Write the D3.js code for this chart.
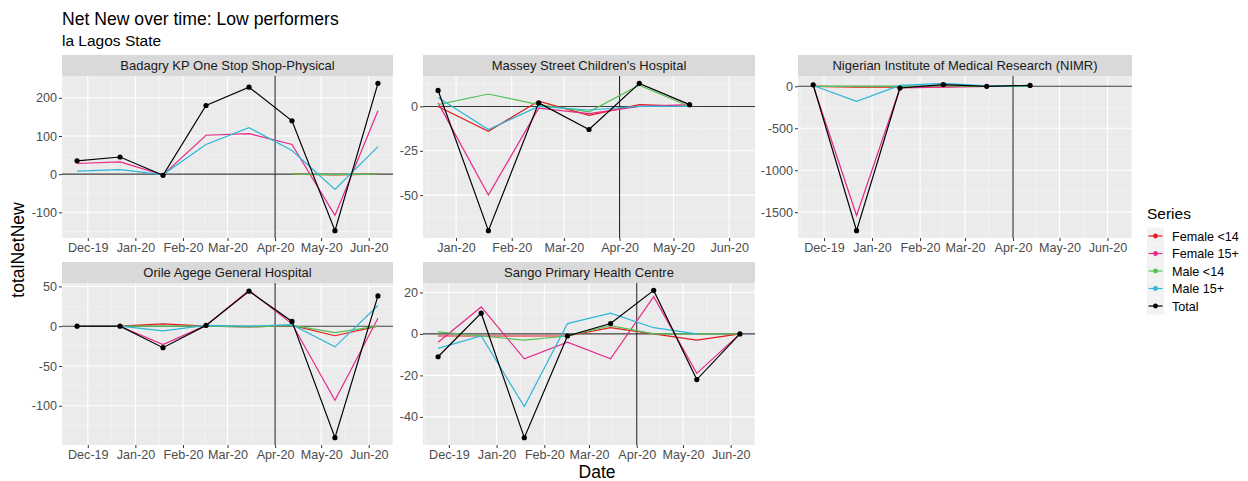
<!DOCTYPE html>
<html>
<head>
<meta charset="utf-8">
<script src="https://cdn.jsdelivr.net/npm/d3@7/dist/d3.min.js"></script>
<style>
  body { margin: 0; background: #fff; }
  text { font-family: "Liberation Sans", Arial, sans-serif; }
</style>
</head>
<body>
<div id="window"></div>
<script>
// dates of the 4-weekly reporting periods
const dates = ["2019-11-24", "2019-12-22", "2020-01-19", "2020-02-16", "2020-03-15", "2020-04-12", "2020-05-10", "2020-06-07"];
const series_names = ["Female <14", "Female 15+", "Male <14", "Male 15+", "Total"];
const series_colors = ["#E41A1C", "#E7298A", "#55C155", "#2CB6DA", "#000000"];
const facility_names = ["Badagry KP One Stop Shop-Physical", "Massey Street Children's Hospital",
    "Nigerian Institute of Medical Research (NIMR)", "Orile Agege General Hospital", "Sango Primary Health Centre"];
const intervention_date = "2020-04-01";

// rows that exist for each facility (first and last date index)
const facility_rows = [[0, 7], [1, 7], [0, 7], [0, 7], [0, 7]];

// values per series: Female <14, Female 15+, Male <14, Male 15+, Total
const badagry = [
    [null, null, null, null, null, 0, -2, 0],
    [28, 32, -2, 102, 106, 78, -108, 166],
    [null, null, null, null, null, 0, -1, 0],
    [8, 12, -1, 78, 122, 62, -40, 72],
    [35, 45, -3, 180, 228, 140, -148, 238]
];
const massey = [
    [null, 0, -14, 3, -5, 1, 0, null],
    [null, 2, -50, -1, -4, 0, 1, null],
    [null, 1, 7, 1, -3, 12, 0, null],
    [null, 5, -13, 0, -2, 0, 0, null],
    [null, 9, -70, 2, -13, 13, 1, null]
];
const nimr = [
    [0, -10, -10, -5, 0, 0, null, null],
    [10, -1540, -20, -10, 0, 0, null, null],
    [0, 0, 0, 5, 0, 0, null, null],
    [10, -180, 10, 35, 5, 5, null, null],
    [18, -1720, -20, 20, 0, 10, null, null]
];
const orile = [
    [null, 0, 3, 0, -1, 1, -12, 0],
    [null, 0, -23, 1, 45, 3, -93, 10],
    [null, 0, 0, 0, -1, 1, -8, 0],
    [null, 0, -6, 1, 0, 2, -26, 26],
    [0, 0, -27, 1, 44, 6, -140, 38]
];
const sango = [
    [-1, -1, -1, -1, 3, 0, -3, 0],
    [-4, 13, -12, -4, -12, 18, -19, 0],
    [1, -1, -3, -1, 4, 0, 0, 0],
    [-7, -1, -35, 5, 10, 3, 0, null],
    [-11, 10, -50, -1, 5, 21, -22, 0]
];
const facility_values = [badagry, massey, nimr, orile, sango];

// y tick labels per facility
const y_ticks = [
    [-100, 0, 100, 200],
    [-50, -25, 0],
    [-1500, -1000, -500, 0],
    [-100, -50, 0, 50],
    [-40, -20, 0, 20]
];

let w = 1248, h = 481;
let svg = d3.select("#window").append("svg").attr("width", w).attr("height", h);

let parse = d3.timeParse("%Y-%m-%d");
let fmt = d3.timeFormat("%b-%y");
let date_values = dates.map(parse);

// panel boxes: [left, right, strip top]
let panel_boxes = [
    [62, 393, 55], [423, 755, 55], [798, 1132, 55],
    [62, 393, 262], [423, 755, 262]
];
let strip_h = 21;
let panel_h = 162;

// title
svg.append("text").attr("x", 62).attr("y", 25).attr("font-size", 17.6).attr("fill", "#000")
    .text("Net New over time: Low performers");
svg.append("text").attr("x", 62).attr("y", 46).attr("font-size", 15.5).attr("fill", "#000")
    .text("la Lagos State");

function midpoints(arr, lo, hi, isTime) {
    // ggplot style minor breaks: halfway between majors, also one step outside
    let out = [];
    let v = arr.map(d => +d);
    for (let i = 0; i < v.length - 1; i++) out.push((v[i] + v[i + 1]) / 2);
    if (v.length > 1) {
        out.push(v[0] - (v[1] - v[0]) / 2);
        out.push(v[v.length - 1] + (v[v.length - 1] - v[v.length - 2]) / 2);
    }
    return out.filter(d => d > +lo && d < +hi).map(d => isTime ? new Date(d) : d);
}

facility_names.forEach((name, fi) => {
    let [left, right, stop] = panel_boxes[fi];
    let top = stop + strip_h;
    let bottom = top + panel_h;
    let rows = facility_rows[fi];
    let vals = facility_values[fi];

    // x scale with 5% expansion
    let d0 = date_values[rows[0]], d1 = date_values[rows[1]];
    let span = d1 - d0;
    let xdom = [new Date(+d0 - span * 0.05), new Date(+d1 + span * 0.05)];
    let x = d3.scaleTime().domain(xdom).range([left, right]);

    let all = vals.flat().filter(v => v !== null);
    let ymin = d3.min(all), ymax = d3.max(all);
    let ypad = (ymax - ymin) * 0.05;
    let y = d3.scaleLinear().domain([ymin - ypad, ymax + ypad]).range([bottom, top]);

    let g = svg.append("g").attr("id", "panel_" + fi);

    // strip
    g.append("rect").attr("x", left).attr("y", stop).attr("width", right - left).attr("height", strip_h)
        .attr("fill", "#D9D9D9");
    g.append("text").attr("x", (left + right) / 2).attr("y", stop + 15).attr("text-anchor", "middle")
        .attr("font-size", 13).attr("fill", "#1A1A1A").text(name);

    // panel background
    g.append("rect").attr("x", left).attr("y", top).attr("width", right - left).attr("height", panel_h)
        .attr("fill", "#EBEBEB");

    let xticks = d3.timeMonth.range(d3.timeMonth.ceil(xdom[0]), xdom[1]);
    let yt = y_ticks[fi];
    let xminor = midpoints(xticks, xdom[0], xdom[1], true);
    let yminor = midpoints(yt, y.domain()[0], y.domain()[1], false);

    // grid
    g.selectAll(".xminor").data(xminor).enter().append("line")
        .attr("x1", d => x(d)).attr("x2", d => x(d)).attr("y1", top).attr("y2", bottom)
        .attr("stroke", "#F7F7F7").attr("stroke-width", 0.6);
    g.selectAll(".yminor").data(yminor).enter().append("line")
        .attr("x1", left).attr("x2", right).attr("y1", d => y(d)).attr("y2", d => y(d))
        .attr("stroke", "#F7F7F7").attr("stroke-width", 0.6);
    g.selectAll(".xmajor").data(xticks).enter().append("line")
        .attr("x1", d => x(d)).attr("x2", d => x(d)).attr("y1", top).attr("y2", bottom)
        .attr("stroke", "#fff").attr("stroke-width", 1.1);
    g.selectAll(".ymajor").data(yt).enter().append("line")
        .attr("x1", left).attr("x2", right).attr("y1", d => y(d)).attr("y2", d => y(d))
        .attr("stroke", "#fff").attr("stroke-width", 1.1);

    // axes
    let xaxis = d3.axisBottom(x).tickValues(xticks).tickFormat(fmt).tickSize(3).tickPadding(2);
    let xa = g.append("g").attr("transform", `translate(0,${bottom})`).call(xaxis);
    let yaxis = d3.axisLeft(y).tickValues(yt).tickFormat(d3.format("d")).tickSize(3).tickPadding(2);
    let ya = g.append("g").attr("transform", `translate(${left},0)`).call(yaxis);
    [xa, ya].forEach(a => {
        a.select(".domain").remove();
        a.selectAll(".tick line").attr("stroke", "#333");
        a.selectAll(".tick text").attr("fill", "#4D4D4D").attr("font-size", 12.6)
            .attr("font-family", '"Liberation Sans", Arial, sans-serif');
    });
    ya.selectAll(".tick text").text(d => d < 0 ? "-" + Math.abs(d) : d);

    // reference lines
    g.append("line").attr("x1", left).attr("x2", right).attr("y1", y(0)).attr("y2", y(0))
        .attr("stroke", "#3a3a3a").attr("stroke-width", 1.1);
    let vx = x(parse(intervention_date));
    g.append("line").attr("x1", vx).attr("x2", vx).attr("y1", top).attr("y2", bottom)
        .attr("stroke", "#2a2a2a").attr("stroke-width", 1.1);

    // series lines
    let line = d3.line()
        .defined(d => d.v !== null)
        .x(d => x(d.date)).y(d => y(d.v));
    vals.forEach((sv, si) => {
        let pts = sv.map((v, i) => ({ date: date_values[i], v: v }));
        g.append("path").datum(pts).attr("d", line).attr("fill", "none")
            .attr("stroke", series_colors[si]).attr("stroke-width", 1.2);
    });

    // total points
    let total = vals[4].map((v, i) => ({ date: date_values[i], v: v })).filter(d => d.v !== null);
    g.selectAll(".pt").data(total).enter().append("circle")
        .attr("cx", d => x(d.date)).attr("cy", d => y(d.v)).attr("r", 2.6).attr("fill", "#000");
});

// axis titles
svg.append("text").attr("x", 597).attr("y", 478).attr("text-anchor", "middle").attr("font-size", 17.5)
    .text("Date");
svg.append("text").attr("transform", "translate(24,250) rotate(-90)").attr("text-anchor", "middle")
    .attr("font-size", 17.5).text("totalNetNew");

// legend
let lx = 1147;
svg.append("text").attr("x", lx).attr("y", 219).attr("font-size", 15.5).text("Series");
series_names.forEach((s, i) => {
    let cy = 236 + i * 17.5;
    let lg = svg.append("g");
    lg.append("rect").attr("x", lx).attr("y", cy - 8.5).attr("width", 17).attr("height", 17).attr("fill", "#F2F2F2");
    lg.append("line").attr("x1", lx + 1.5).attr("x2", lx + 15.5).attr("y1", cy).attr("y2", cy)
        .attr("stroke", series_colors[i]).attr("stroke-width", 1.2);
    lg.append("circle").attr("cx", lx + 8.5).attr("cy", cy).attr("r", 2.4).attr("fill", series_colors[i]);
    lg.append("text").attr("x", lx + 25).attr("y", cy + 4.5).attr("font-size", 12.6).attr("fill", "#000").text(s);
});
</script>
</body>
</html>
